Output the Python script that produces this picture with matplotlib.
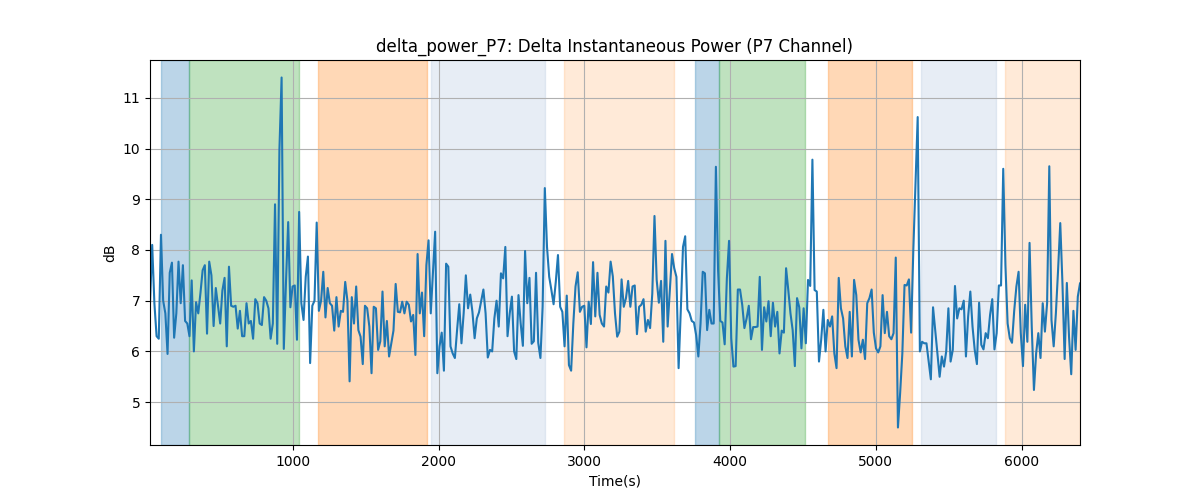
import numpy as np
import matplotlib
matplotlib.use("Agg")
import matplotlib.pyplot as plt

# delta power values (dB), ~15 s sampling
delta_db = [
    6.95, 8.1, 6.95, 6.3, 6.25, 8.3, 7.0, 6.75, 5.95, 7.55, 7.75, 6.27, 6.75, 7.77, 6.95, 7.7,
    6.6, 6.55, 6.3, 7.4, 6.0, 6.97, 6.75, 7.15, 7.6, 7.7, 6.35, 7.77, 7.5, 6.5, 7.25, 6.9,
    6.55, 7.2, 7.45, 6.1, 7.67, 6.9, 6.88, 6.9, 6.45, 6.8, 6.3, 6.3, 6.95, 6.55, 6.6, 6.25,
    7.03, 6.95, 6.55, 6.52,
    7.07, 7.0, 6.85, 6.25, 6.55, 8.9, 6.15, 9.97, 11.4, 6.05, 7.37, 8.55, 6.87, 7.28, 7.3, 6.23,
    8.75, 6.95, 6.62, 7.47, 7.87, 5.77, 6.9, 7.0, 8.54, 6.8, 7.0, 7.57, 6.67, 7.25, 6.95, 6.9,
    6.41, 7.07, 6.49, 6.8, 6.78, 7.37, 7.0, 5.41, 7.07, 6.55, 7.28, 6.42, 6.29, 5.75, 6.9, 6.85,
    6.49, 5.57, 6.88, 6.85, 6.03, 6.2, 7.18,
    6.1, 6.6, 5.9, 6.16, 6.41, 7.33, 6.78, 6.77, 6.98, 6.75, 6.98, 6.92, 6.59, 6.72, 5.93, 7.92,
    6.75, 7.16, 6.3, 7.7, 8.19, 6.75, 7.54, 8.36, 5.57, 6.1, 6.37, 5.62, 7.73, 7.67, 6.1, 5.96,
    5.87, 6.42, 6.93, 6.16, 6.75, 7.5, 6.85, 7.12, 6.78, 6.26, 6.65, 6.77, 7.0, 7.22, 6.75, 5.88,
    6.03, 6.0, 6.65, 7.0, 6.49, 7.54,
    7.44, 8.06, 6.3, 6.75, 7.08, 6.0, 5.85, 7.11, 6.55, 6.11, 7.98, 6.95, 7.45, 6.15, 6.2, 7.55,
    6.17, 5.87, 6.88, 9.22, 8.06, 7.47, 7.21, 6.93, 7.37, 7.9, 6.88, 6.78, 6.1, 7.1, 5.73, 5.62,
    6.55, 7.28, 7.56, 6.78, 6.88, 6.9, 6.08, 6.98, 6.54, 7.76, 6.69, 7.55, 6.72, 6.55, 6.49, 7.28,
    7.16, 7.77, 7.48, 6.75, 6.29,
    6.39, 7.42, 6.88, 7.05, 7.39, 6.88, 7.28, 7.3, 6.34, 6.88, 6.92, 7.03, 6.39, 6.62, 6.46, 7.14,
    8.67, 7.41, 6.96, 7.39, 6.19, 8.18, 6.49, 7.21, 7.92, 7.64, 7.47, 5.67, 6.82, 8.06, 8.27, 6.83,
    6.75, 6.6, 6.57, 6.32, 5.9, 6.55, 7.57, 7.54, 6.42, 6.82, 6.55, 6.55, 9.64, 7.6, 6.6, 6.57,
    6.14, 7.44, 8.18, 6.26, 5.7, 5.71,
    7.22, 7.22, 6.92, 6.46, 6.65, 6.9, 6.24, 6.48, 6.48, 6.49, 7.47, 6.03, 6.87, 6.59, 6.99, 6.3,
    6.96, 6.49, 6.78, 5.96, 6.41, 6.37, 7.64, 7.21, 6.75, 6.42, 5.71, 7.05, 6.87, 6.06, 6.85, 6.16,
    7.41, 7.29, 9.78, 7.21, 7.18, 5.8, 6.23, 6.82, 6.0, 6.62, 6.49, 6.69, 5.96, 5.67, 7.45, 6.85,
    6.65, 6.1, 5.87, 6.78, 5.9,
    7.41, 7.11, 6.23, 5.98, 6.23, 5.85, 6.95, 7.05, 7.22, 6.37, 6.06, 5.98, 6.1, 7.11, 6.36, 6.78,
    6.3, 6.24, 6.36, 7.85, 4.5, 5.18, 5.96, 7.31, 7.3, 7.42, 6.37, 7.99, 9.3, 10.62, 6.0, 6.19,
    6.16, 6.16, 5.8, 5.45, 6.87, 6.42, 5.96, 5.5, 5.9, 5.7, 6.0, 6.85, 5.8, 6.03, 7.29, 6.65,
    6.85, 6.83, 7.0, 5.9, 6.69,
    7.18, 6.49, 6.03, 5.75, 6.96, 6.13, 6.04, 6.36, 6.26, 6.72, 7.03, 6.04, 6.36, 7.3, 7.3, 9.6,
    7.7, 6.55, 6.26, 6.17, 6.8, 7.28, 7.57, 6.36, 5.71, 6.92, 6.19, 8.14, 6.49, 5.24, 5.96, 6.36,
    5.87, 6.95, 6.39, 6.95, 9.65, 6.62, 6.1, 6.75, 7.6, 8.53, 7.34, 5.85, 7.35, 6.29, 5.55, 6.8,
    6.03, 7.08, 7.34,
]
t_first = 20
t_last = 6400

# annotated segments (start s, end s, colour, alpha)
seg_start = [94, 286, 1171, 1946, 2860, 3759, 3926, 4672, 5310, 5887]
seg_end = [286, 1044, 1921, 2732, 3613, 3926, 4512, 5246, 5823, 6400]
seg_color = ['tab:blue', 'tab:green', 'tab:orange', 'lightsteelblue', 'tab:orange',
             'tab:blue', 'tab:green', 'tab:orange', 'lightsteelblue', 'tab:orange']
seg_alpha = [0.3, 0.3, 0.3, 0.3, 0.16, 0.3, 0.3, 0.3, 0.3, 0.16]

time_s = np.linspace(t_first, t_last, len(delta_db))

fig, ax = plt.subplots(figsize=(12, 5), dpi=100)
for s, e, c, a in zip(seg_start, seg_end, seg_color, seg_alpha):
    ax.axvspan(s, e, color=c, alpha=a)
ax.plot(time_s, delta_db, color='tab:blue', linewidth=1.5)
ax.set_xlim(time_s[0], time_s[-1])
ax.grid(True)
ax.set_title('delta_power_P7: Delta Instantaneous Power (P7 Channel)')
ax.set_xlabel('Time(s)')
ax.set_ylabel('dB')
fig.savefig('out.png')
